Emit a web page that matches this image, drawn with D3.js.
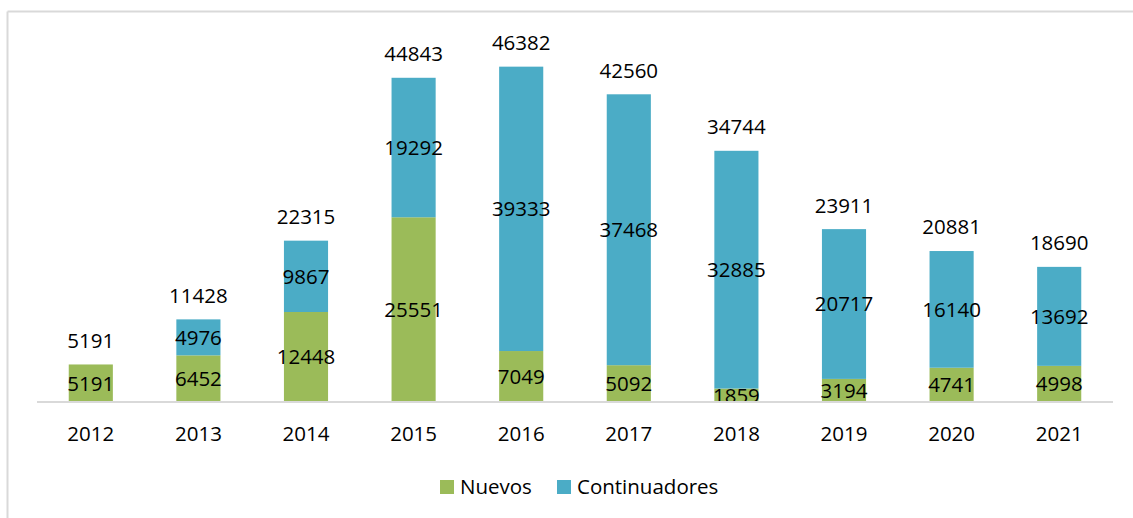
<!DOCTYPE html>
<html>
<head>
<meta charset="utf-8">
<script src="https://cdn.jsdelivr.net/npm/d3@7"></script>
<style>
  html, body { margin: 0; padding: 0; background: #fff; }
  svg { display: block; }
  text { font-family: "Open Sans", "Liberation Sans", sans-serif; fill: #000; }
</style>
</head>
<body>
<svg id="chart" width="1133" height="518"></svg>
<script>
const years = ["2012","2013","2014","2015","2016","2017","2018","2019","2020","2021"];
const nuevos = [5191, 6452, 12448, 25551, 7049, 5092, 1859, 3194, 4741, 4998];
const continuadores = [0, 4976, 9867, 19292, 39333, 37468, 32885, 20717, 16140, 13692];
const totals = [5191, 11428, 22315, 44843, 46382, 42560, 34744, 23911, 20881, 18690];
const seriesNames = ["Nuevos", "Continuadores"];
const colors = ["#9BBB59", "#4BACC6"];

const svg = d3.select("#chart");
const W = 1133, H = 518;

// outer border (top and left visible)
svg.append("line").attr("x1", 7.5).attr("x2", W).attr("y1", 11.5).attr("y2", 11.5)
  .attr("stroke", "#d9d9d9").attr("stroke-width", 2);
svg.append("line").attr("x1", 7.5).attr("x2", 7.5).attr("y1", 11.5).attr("y2", H)
  .attr("stroke", "#d9d9d9").attr("stroke-width", 2);

const x = d3.scaleBand().domain(years).range([37, 1113]).paddingInner(0.59).paddingOuter(0.295);
const y = d3.scaleLinear().domain([0, 50000]).range([402, 40.5]);

const rows = years.map((yr, i) => ({ year: yr, Nuevos: nuevos[i], Continuadores: continuadores[i], total: totals[i] }));
const stack = d3.stack().keys(seriesNames)(rows);

const g = svg.append("g");
stack.forEach((layer, li) => {
  g.selectAll(null).data(layer).enter().append("rect")
    .attr("x", d => x(d.data.year))
    .attr("width", x.bandwidth())
    .attr("y", d => y(d[1]))
    .attr("height", d => y(d[0]) - y(d[1]))
    .attr("fill", colors[li]);
});

// axis line
svg.append("line").attr("x1", 37).attr("x2", 1113).attr("y1", 402).attr("y2", 402)
  .attr("stroke", "#d9d9d9").attr("stroke-width", 2);

const fs = 20.5;
// segment labels
stack.forEach((layer) => {
  g.selectAll(null).data(layer.filter(d => d[1] - d[0] > 0)).enter().append("text")
    .attr("x", d => x(d.data.year) + x.bandwidth() / 2)
    .attr("y", d => (y(d[0]) + y(d[1])) / 2)
    .attr("dy", "0.36em")
    .attr("text-anchor", "middle")
    .style("font-size", fs + "px")
    .text(d => d[1] - d[0]);
});

// total labels
g.selectAll(null).data(rows).enter().append("text")
  .attr("x", d => x(d.year) + x.bandwidth() / 2)
  .attr("y", d => y(d.total) - 24)
  .attr("dy", "0.36em")
  .attr("text-anchor", "middle")
  .style("font-size", fs + "px")
  .text(d => d.total);

// x axis labels
const xAxis = d3.axisBottom(x).tickSize(0).tickPadding(0);
const ax = svg.append("g").attr("transform", "translate(0,434)").call(xAxis);
ax.select(".domain").remove();
ax.selectAll("text").attr("y", 0).attr("dy", "0.36em")
  .style("font-size", fs + "px").style("font-family", "'Open Sans', sans-serif").attr("fill", "#000");

// legend
const legend = svg.append("g");
const legendItems = [{ name: seriesNames[0], x: 440 }, { name: seriesNames[1], x: 557 }];
legendItems.forEach((it, i) => {
  legend.append("rect").attr("x", it.x).attr("y", 480).attr("width", 14).attr("height", 14).attr("fill", colors[i]);
  legend.append("text").attr("x", it.x + 20).attr("y", 487).attr("dy", "0.36em")
    .style("font-size", fs + "px").text(it.name);
});
</script>
</body>
</html>
